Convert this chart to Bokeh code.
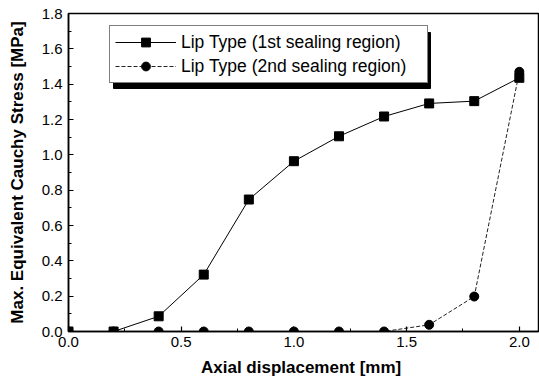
from bokeh.plotting import figure
from bokeh.models import Range1d, SingleIntervalTicker, PrintfTickFormatter, Legend, LegendItem
from bokeh.embed import file_html
from bokeh.resources import INLINE

# ---- data ----
displacement = [0.0, 0.2, 0.4, 0.6, 0.8, 1.0, 1.2, 1.4, 1.6, 1.8, 2.0]
lip_1st = [0.0, 0.0, 0.086, 0.322, 0.747, 0.964, 1.105, 1.217, 1.291, 1.304, 1.436]
lip_2nd = [0.0, 0.0, 0.0, 0.0, 0.0, 0.0, 0.0, 0.0, 0.038, 0.198, 1.470]
label_1st = "Lip Type (1st sealing region)"
label_2nd = "Lip Type (2nd sealing region)"
x_title = "Axial  displacement [mm]"
y_title = "Max. Equivalent Cauchy Stress [MPa]"

# ---- layout ----
FRAME_W, FRAME_H = 470, 318
X_END, Y_END = 2.085, 1.8
FONT = "Liberation Sans"

p = figure(frame_width=FRAME_W, frame_height=FRAME_H,
           min_border_left=68, min_border_right=1, min_border_top=13, min_border_bottom=47,
           output_backend="svg", toolbar_location=None,
           x_range=Range1d(0, X_END), y_range=Range1d(0, Y_END))
p.xgrid.visible = False
p.ygrid.visible = False
p.outline_line_color = "black"
p.outline_line_width = 1.5
p.background_fill_color = "white"
p.border_fill_color = "white"

p.xaxis.ticker = SingleIntervalTicker(interval=0.5, num_minor_ticks=2)
p.yaxis.ticker = SingleIntervalTicker(interval=0.2, num_minor_ticks=2)
for ax in (p.xaxis[0], p.yaxis[0]):
    ax.formatter = PrintfTickFormatter(format="%.1f")
    ax.axis_line_color = "black"
    ax.axis_line_width = 1.5
    ax.major_tick_in = 5
    ax.major_tick_out = 0
    ax.minor_tick_in = 3
    ax.minor_tick_out = 0
    ax.major_tick_line_color = "black"
    ax.minor_tick_line_color = "black"
    ax.major_tick_line_width = 1.2
    ax.major_label_text_font = FONT
    ax.major_label_text_font_size = "15px"
    ax.major_label_text_color = "black"
    ax.axis_label_text_font = FONT
    ax.axis_label_text_font_size = "17px"
    ax.axis_label_text_font_style = "bold"
    ax.axis_label_text_color = "black"
p.xaxis.axis_label = x_title
p.yaxis.axis_label = y_title
p.xaxis.major_label_standoff = 5
p.yaxis.major_label_standoff = 6
p.xaxis.axis_label_standoff = 8
p.yaxis.axis_label_standoff = 12

# ---- legend geometry (pixels relative to frame bottom-left) ----
LEG_X, LEG_Y, LEG_W, LEG_H = 41, 248, 317, 56
SH_DX, SH_DY = 4, 5
dx = X_END / FRAME_W
dy = Y_END / FRAME_H
p.quad(left=[(LEG_X + SH_DX) * dx], right=[(LEG_X + LEG_W + SH_DX) * dx],
       bottom=[(LEG_Y - SH_DY) * dy], top=[(LEG_Y + LEG_H - SH_DY) * dy],
       fill_color="black", line_color="black")

# ---- series ----
l2 = p.line(displacement, lip_2nd, line_color="#222222", line_width=1, line_dash="4 2")
s2 = p.scatter(displacement, lip_2nd, marker="circle", size=9, fill_color="black", line_color="black")
l1 = p.line(displacement, lip_1st, line_color="black", line_width=1)
s1 = p.scatter(displacement, lip_1st, marker="square", size=9, fill_color="black", line_color="black")

legend = Legend(items=[LegendItem(label=label_1st, renderers=[l1, s1]),
                       LegendItem(label=label_2nd, renderers=[l2, s2])],
                location=(LEG_X, LEG_Y), margin=0, padding=5, spacing=2,
                glyph_width=61, glyph_height=22, label_height=22, label_standoff=5,
                label_width=241,
                label_text_font=FONT, label_text_font_size="17.5px", label_text_color="black",
                border_line_color="black", border_line_width=1,
                background_fill_color="white", background_fill_alpha=1.0)
p.add_layout(legend, "center")

open("out.html", "w").write(file_html(p, INLINE))
